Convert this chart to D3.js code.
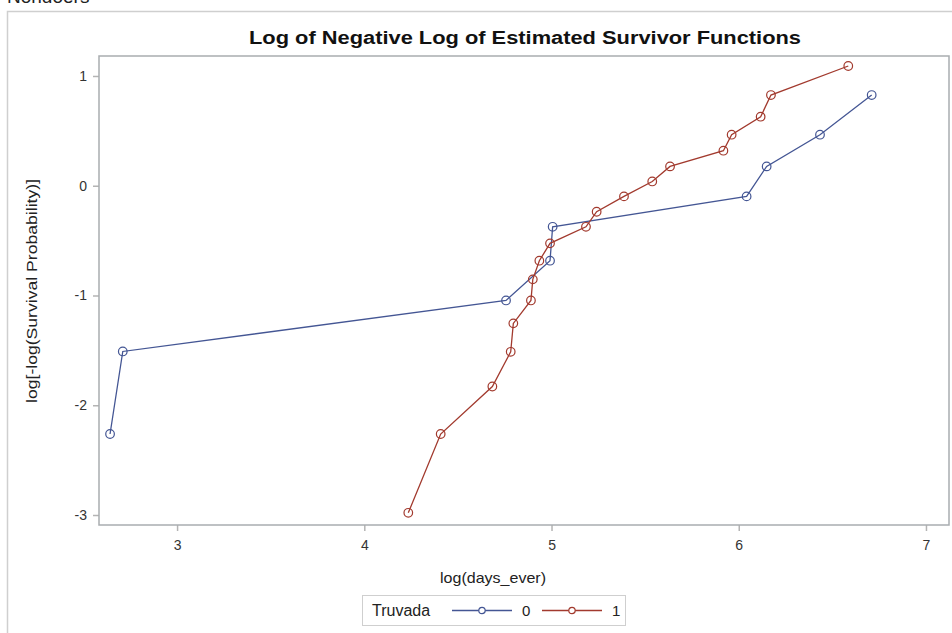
<!DOCTYPE html>
<html>
<head>
<meta charset="utf-8">
<script src="https://cdn.jsdelivr.net/npm/d3@7"></script>
<style>
  body { margin: 0; background: #fff; }
  svg { display: block; font-family: "Liberation Sans", Arial, sans-serif; }
</style>
</head>
<body>
<svg id="chart" width="952" height="633"></svg>
<script>
// log(days_ever) vs log[-log(S)] for each Truvada group
const groups = ["0", "1"];
const logDays0 = [2.642, 2.710, 4.757, 4.992, 5.006, 6.042, 6.149, 6.434, 6.710];
const logLogS0 = [-2.262, -1.510, -1.045, -0.683, -0.374, -0.097, 0.176, 0.465, 0.826];
const logDays1 = [4.235, 4.408, 4.684, 4.782, 4.796, 4.890, 4.900, 4.935, 4.992, 5.184,
                  5.241, 5.387, 5.538, 5.633, 5.918, 5.962, 6.117, 6.172, 6.585];
const logLogS1 = [-2.980, -2.262, -1.829, -1.513, -1.254, -1.045, -0.853, -0.683, -0.525, -0.374,
                  -0.237, -0.097, 0.039, 0.176, 0.319, 0.465, 0.629, 0.826, 1.091];
const xTickValues = [3, 4, 5, 6, 7];
const yTickValues = [-3, -2, -1, 0, 1];

const series = [
    { name: groups[0], color: "#445694", pts: logDays0.map((x, i) => ({ x, y: logLogS0[i] })) },
    { name: groups[1], color: "#A23A2E", pts: logDays1.map((x, i) => ({ x, y: logLogS1[i] })) }
];

const svg = d3.select("#chart");

// heading of the page above, mostly cut off by the screenshot
svg.append("text")
    .attr("x", 7)
    .attr("y", 2.5)
    .attr("font-size", 19)
    .attr("fill", "#222")
    .text("Nondoers");

// outer frame (runs off the right and bottom edges)
svg.append("path")
    .attr("d", "M7.5,633 V11.5 H952")
    .attr("fill", "none")
    .attr("stroke", "#cfcfcf")
    .attr("stroke-width", 1.5);

const margin = { top: 56, right: 3, bottom: 108, left: 99 };
const innerWidth = 952 - margin.left - margin.right;
const innerHeight = 633 - margin.top - margin.bottom;

const xScale = d3.scaleLinear()
    .domain([2.583, 7.123])
    .range([0, innerWidth]);

const yScale = d3.scaleLinear()
    .domain([-3.091, 1.182])
    .range([innerHeight, 0]);

const g = svg.append("g")
    .attr("transform", `translate(${margin.left},${margin.top})`);

svg.append("text")
    .attr("x", 525)
    .attr("y", 44)
    .attr("text-anchor", "middle")
    .attr("font-size", 18)
    .attr("font-weight", "bold")
    .attr("fill", "#111")
    .attr("textLength", 552)
    .attr("lengthAdjust", "spacingAndGlyphs")
    .text("Log of Negative Log of Estimated Survivor Functions");

const xAxis = d3.axisBottom(xScale)
    .tickValues(xTickValues)
    .tickSize(6)
    .tickPadding(6)
    .tickFormat(d3.format("d"));

const yAxis = d3.axisLeft(yScale)
    .tickValues(yTickValues)
    .tickSize(6)
    .tickPadding(6)
    .tickFormat(d => d < 0 ? "-" + Math.abs(d) : d);

const xAxisG = g.append("g")
    .attr("transform", `translate(0,${innerHeight})`)
    .call(xAxis);
const yAxisG = g.append("g").call(yAxis);

[xAxisG, yAxisG].forEach(ax => {
    ax.selectAll(".domain").remove();
    ax.selectAll(".tick line").attr("stroke", "#b4b4b4").attr("stroke-width", 1.5);
    ax.selectAll(".tick text").attr("font-size", 14).attr("fill", "#333")
        .attr("font-family", "Liberation Sans, Arial, sans-serif");
});
xAxisG.selectAll(".tick text").attr("dy", "0.95em");

// plot frame
g.append("rect")
    .attr("x", 0)
    .attr("y", 0)
    .attr("width", innerWidth)
    .attr("height", innerHeight)
    .attr("fill", "none")
    .attr("stroke", "#a9adb0")
    .attr("stroke-width", 1.5);

svg.append("text")
    .attr("x", 493)
    .attr("y", 583)
    .attr("text-anchor", "middle")
    .attr("font-size", 15)
    .attr("fill", "#222")
    .attr("textLength", 106)
    .attr("lengthAdjust", "spacingAndGlyphs")
    .text("log(days_ever)");

svg.append("text")
    .attr("transform", `translate(37,291) rotate(-90)`)
    .attr("text-anchor", "middle")
    .attr("font-size", 15)
    .attr("fill", "#222")
    .attr("textLength", 224)
    .attr("lengthAdjust", "spacingAndGlyphs")
    .text("log[-log(Survival Probability)]");

const line = d3.line()
    .x(d => xScale(d.x))
    .y(d => yScale(d.y));

series.forEach(s => {
    g.append("path")
        .datum(s.pts)
        .attr("d", line)
        .attr("fill", "none")
        .attr("stroke", s.color)
        .attr("stroke-width", 1.3);

    g.selectAll(null).data(s.pts)
        .enter()
        .append("circle")
        .attr("cx", d => xScale(d.x))
        .attr("cy", d => yScale(d.y))
        .attr("r", 4.3)
        .attr("fill", "none")
        .attr("stroke", s.color)
        .attr("stroke-width", 1.2);
});

// legend
const legend = svg.append("g").attr("transform", "translate(362,595)");
legend.append("rect")
    .attr("x", 0.5)
    .attr("y", 0.5)
    .attr("width", 263)
    .attr("height", 30)
    .attr("fill", "#fff")
    .attr("stroke", "#cfcfcf");
legend.append("text")
    .attr("x", 10)
    .attr("y", 21)
    .attr("font-size", 16)
    .attr("fill", "#222")
    .text("Truvada");

series.forEach((s, i) => {
    const x0 = 90 + i * 90;
    const item = legend.append("g").attr("transform", `translate(${x0},15.5)`);
    item.append("line")
        .attr("x1", 0).attr("x2", 60)
        .attr("stroke", s.color)
        .attr("stroke-width", 1.3);
    item.append("circle")
        .attr("cx", 30)
        .attr("r", 3.2)
        .attr("fill", "#fff")
        .attr("stroke", s.color)
        .attr("stroke-width", 1.2);
    item.append("text")
        .attr("x", 70)
        .attr("y", 5.5)
        .attr("font-size", 15)
        .attr("fill", "#222")
        .text(s.name);
});
</script>
</body>
</html>
